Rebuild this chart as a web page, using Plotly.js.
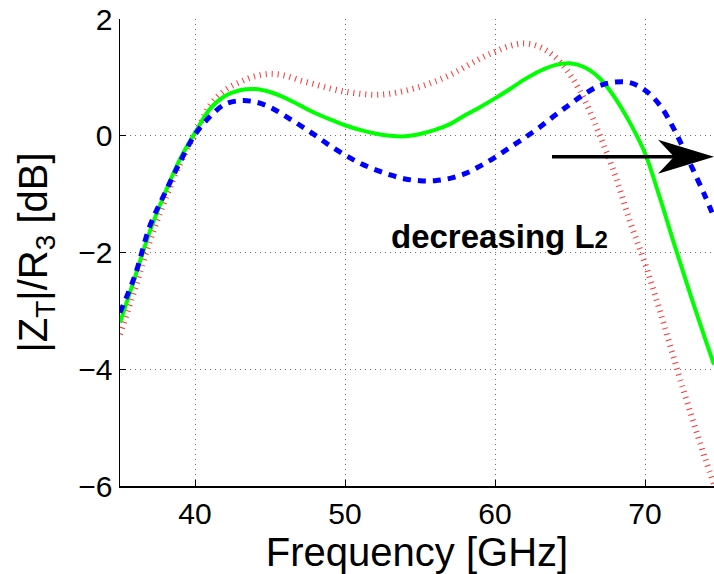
<!DOCTYPE html>
<html>
<head>
<meta charset="utf-8">
<script src="https://cdn.plot.ly/plotly-3.0.1.min.js"></script>
<style>html,body{margin:0;padding:0;background:#fff;}#chart{width:714px;height:574px;}</style>
</head>
<body>
<div id="chart"></div>
<script>
// Frequency samples [GHz]
const freq = [35,36,37,38,39,40,41,42,43,44,45,46,47,48,49,50,51,52,53,54,55,56,57,58,59,60,61,62,63,64,65,66,67,68,69,70,71,72,73,74,74.6];

// Red dotted curve (largest L2)
const redVals = [-3.40,-2.62,-1.80,-1.10,-0.48,0.02,0.52,0.78,0.92,1.02,1.06,1.03,0.95,0.88,0.81,0.755,0.72,0.70,0.72,0.77,0.84,0.93,1.04,1.18,1.32,1.44,1.54,1.58,1.52,1.35,1.05,0.60,0.0,-0.67,-1.47,-2.19,-3.00,-3.88,-4.72,-5.52,-5.97];

// Green solid curve
const greenVals = [-3.20,-2.42,-1.63,-0.98,-0.40,0.05,0.46,0.68,0.78,0.80,0.75,0.65,0.52,0.39,0.28,0.18,0.10,0.04,0.00,-0.01,0.03,0.10,0.20,0.35,0.49,0.64,0.80,0.97,1.11,1.21,1.24,1.17,0.98,0.65,0.22,-0.30,-1.07,-1.90,-2.70,-3.47,-3.92];

// Blue dashed curve (smallest L2)
const blueVals = [-3.03,-2.39,-1.54,-0.98,-0.45,0.02,0.33,0.54,0.60,0.58,0.49,0.34,0.18,0.01,-0.17,-0.33,-0.47,-0.58,-0.67,-0.74,-0.77,-0.77,-0.73,-0.65,-0.52,-0.37,-0.20,-0.03,0.15,0.35,0.54,0.72,0.86,0.92,0.91,0.78,0.52,0.08,-0.47,-1.03,-1.40];

const xTicks = [40,50,60,70];
const yTicks = [-6,-4,-2,0,2];

// Annotation arrow (data coords)
const arrowTail = [63.8, -0.36];
const arrowTip = [74.6, -0.36];
const labelPos = [52.95, -1.73];

const FONT = 'Liberation Sans, Arial, Helvetica, sans-serif';

const traces = [
  {x: freq, y: redVals, mode: 'lines', line: {color: 'rgb(255,50,50)', width: 6, dash: '1px,5px', shape: 'spline'}, hoverinfo: 'skip'},
  {x: freq, y: greenVals, mode: 'lines', line: {color: '#00ff00', width: 4, shape: 'spline'}, hoverinfo: 'skip'},
  {x: freq, y: blueVals, mode: 'lines', line: {color: '#0000ff', width: 5, dash: '8px,7px', shape: 'spline'}, hoverinfo: 'skip'}
];

const layout = {
  width: 714, height: 574,
  margin: {l: 120, r: 0, t: 19, b: 88, pad: 0},
  paper_bgcolor: '#fff', plot_bgcolor: '#fff',
  showlegend: false,
  font: {family: FONT, color: '#000'},
  xaxis: {
    range: [35, 74.6], tickvals: xTicks, ticktext: xTicks.map(String),
    ticks: 'inside', ticklen: 6, tickwidth: 1, tickcolor: '#000',
    showline: true, linecolor: '#000', linewidth: 1.5, mirror: false,
    showgrid: true, gridcolor: '#6f6f6f', gridwidth: 1, griddash: '1px,4px',
    zeroline: false, tickfont: {size: 30, family: FONT, color: '#000'},
    title: {text: 'Frequency [GHz]', font: {size: 40, family: FONT, color: '#000'}, standoff: 2}
  },
  yaxis: {
    range: [-6, 2], tickvals: yTicks, ticktext: yTicks.map(v => v < 0 ? '\u2212' + Math.abs(v) : String(v)),
    ticks: 'inside', ticklen: 6, tickwidth: 1, tickcolor: '#000',
    showline: true, linecolor: '#000', linewidth: 1.5, mirror: false,
    showgrid: true, gridcolor: '#6f6f6f', gridwidth: 1, griddash: '1px,4px',
    zeroline: false, tickfont: {size: 30, family: FONT, color: '#000'},
    title: {text: '|Z<sub>T</sub>|/R<sub>3</sub> [dB]', font: {size: 40, family: FONT, color: '#000'}, standoff: 18}
  },
  shapes: [
    {type: 'line', xref: 'x', yref: 'y', x0: arrowTail[0], y0: arrowTail[1], x1: arrowTip[0] - 1.5, y1: arrowTip[1], line: {color: '#000', width: 3.3}},
    {type: 'path', xref: 'x', yref: 'y', xsizemode: 'pixel', ysizemode: 'pixel', xanchor: arrowTip[0], yanchor: arrowTip[1],
     path: 'M0,0 L-56,17 L-40,0 L-56,-17 Z', fillcolor: '#000', line: {width: 0}}
  ],
  annotations: [
    {x: labelPos[0], y: labelPos[1], xref: 'x', yref: 'y', xanchor: 'left', yanchor: 'middle', showarrow: false,
     text: 'decreasing L<span style="font-size:24px">2</span>', font: {size: 33, family: FONT, color: '#000', weight: 'bold'}}
  ]
};

Plotly.newPlot('chart', traces, layout, {staticPlot: true, displayModeBar: false});
</script>
</body>
</html>
